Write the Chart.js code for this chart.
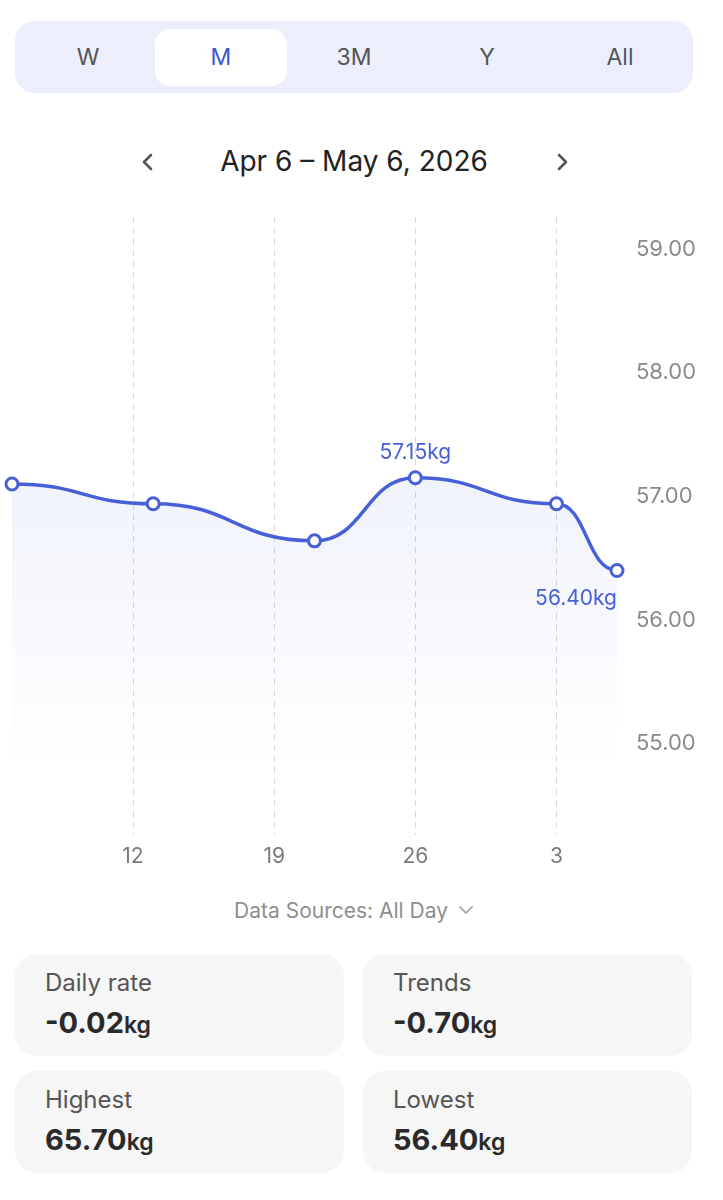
<!DOCTYPE html>
<html>
<head>
<meta charset="utf-8">
<script src="https://cdn.jsdelivr.net/npm/chart.js@4.4.1/dist/chart.umd.min.js"></script>
<style>
  body { margin: 0; background: #fff; font-family: Inter, "Noto Sans", sans-serif; }
  #page { position: relative; width: 723px; height: 1200px; overflow: hidden; }
  .seg { position: absolute; left: 15px; top: 21px; width: 678px; height: 72px; background: #eceffb; border-radius: 20px; }
  .seg .pill { position: absolute; left: 140px; top: 8px; width: 132px; height: 57px; background: #fff; border-radius: 15px; }
  .seg span { position: absolute; top: 0; line-height: 72px; width: 100px; margin-left: -50px; text-align: center; font-size: 23px; color: #555; }
  .seg span.on { color: #3f56d4; }
  .range { position: absolute; top: 142px; left: 0; width: 708px; text-align: center; font-size: 28px; color: #222; line-height: 38px; }
  .chev { position: absolute; top: 146px; width: 20px; height: 32px; }
  #wrap { position: absolute; left: 0; top: 200px; width: 723px; height: 680px; }
  .src { position: absolute; top: 896px; left: 0; width: 708px; text-align: center; font-size: 21px; color: #8e8e8e; line-height: 30px; }
  .card { position: absolute; width: 329px; height: 102px; background: #f6f6f6; border-radius: 22px; }
  .card .lab { position: absolute; left: 30px; top: 14px; font-size: 24px; color: #555; }
  .card .val { position: absolute; left: 30px; top: 51px; font-size: 29px; font-weight: 700; color: #2a2a2a; }
  .card .val small { font-size: 23px; font-weight: 600; }
</style>
</head>
<body>
<div id="page">
  <div class="seg">
    <div class="pill"></div>
    <span style="left:73px">W</span>
    <span class="on" style="left:206px">M</span>
    <span style="left:339px">3M</span>
    <span style="left:472px">Y</span>
    <span style="left:605px">All</span>
  </div>
  <svg class="chev" style="left:137px" viewBox="0 0 20 32"><path d="M14 9 L7 16 L14 23" fill="none" stroke="#555" stroke-width="2.6" stroke-linecap="round" stroke-linejoin="round"/></svg>
  <div class="range">Apr 6 – May 6, 2026</div>
  <svg class="chev" style="left:553px" viewBox="0 0 20 32"><path d="M6 9 L13 16 L6 23" fill="none" stroke="#555" stroke-width="2.6" stroke-linecap="round" stroke-linejoin="round"/></svg>
  <div id="wrap"><canvas id="myChart"></canvas></div>
  <div class="src">Data Sources: All Day <svg width="16" height="12" viewBox="0 0 16 12" style="vertical-align:2px;margin-left:4px"><path d="M2 3 L8 9 L14 3" fill="none" stroke="#b0b0b0" stroke-width="2" stroke-linecap="round" stroke-linejoin="round"/></svg></div>
  <div class="card" style="left:15px;top:954px"><div class="lab">Daily rate</div><div class="val">-0.02<small>kg</small></div></div>
  <div class="card" style="left:363px;top:954px"><div class="lab">Trends</div><div class="val">-0.70<small>kg</small></div></div>
  <div class="card" style="left:15px;top:1071px"><div class="lab">Highest</div><div class="val">65.70<small>kg</small></div></div>
  <div class="card" style="left:363px;top:1071px"><div class="lab">Lowest</div><div class="val">56.40<small>kg</small></div></div>
</div>
<script>
// day offsets from Apr 6
const days = [0, 7, 15, 20, 27, 30];
const weights = [57.10, 56.94, 56.64, 57.15, 56.94, 56.40];
const xTickDays = [6, 13, 20, 27];
const xTickLabels = ['12', '19', '26', '3'];
const yTicks = [55, 56, 57, 58, 59];

const blue = '#4760d8';

// every segment leaves and enters its points horizontally
const flatCurve = {
    id: 'flatCurve',
    beforeDraw(chart) {
        const line = chart.getDatasetMeta(0).dataset;
        line.updateControlPoints(chart.chartArea, 'x');
        const pts = line.points;
        for (let i = 0; i < pts.length; i++) {
            const p = pts[i];
            const prev = pts[i - 1], next = pts[i + 1];
            p.cp1x = prev ? p.x - (p.x - prev.x) * 0.5 : p.x;
            p.cp1y = p.y;
            p.cp2x = next ? p.x + (next.x - p.x) * 0.5 : p.x;
            p.cp2y = p.y;
        }
    }
};

// kg labels on the highest and the last point
const kgLabels = {
    id: 'kgLabels',
    afterDatasetsDraw(chart) {
        const ctx = chart.ctx;
        const pts = chart.getDatasetMeta(0).data;
        const maxI = weights.indexOf(Math.max(...weights));
        const lastI = weights.length - 1;
        ctx.save();
        ctx.font = '21px Inter, "Noto Sans", sans-serif';
        ctx.fillStyle = blue;
        ctx.textBaseline = 'middle';
        ctx.textAlign = 'center';
        ctx.fillText(weights[maxI].toFixed(2) + 'kg', pts[maxI].x, pts[maxI].y - 25);
        ctx.textAlign = 'right';
        ctx.fillText(weights[lastI].toFixed(2) + 'kg', pts[lastI].x, pts[lastI].y + 28);
        ctx.restore();
    }
};

function myLoadFunction() {
    const ctx = document.getElementById('myChart').getContext('2d');
    var myChartConfig = {
        type: 'line',
        data: {
            datasets: [{
                data: days.map((d, i) => ({ x: d, y: weights[i] })),
                borderColor: blue,
                borderWidth: 3.5,
                tension: 0.4,
                fill: 'start',
                backgroundColor: function (c) {
                    const area = c.chart.chartArea;
                    if (!area) return 'rgba(71,96,216,0.06)';
                    const g = c.chart.ctx.createLinearGradient(0, area.top + 260, 0, area.bottom - 70);
                    g.addColorStop(0, 'rgba(71,96,216,0.08)');
                    g.addColorStop(1, 'rgba(71,96,216,0)');
                    return g;
                },
                pointRadius: 6,
                pointBorderWidth: 3,
                pointBackgroundColor: '#fff',
                pointBorderColor: blue,
                clip: false
            }]
        },
        options: {
            responsive: true,
            maintainAspectRatio: false,
            animation: false,
            layout: { padding: { left: 12, top: 17, bottom: 12, right: 0 } },
            plugins: { legend: { display: false }, tooltip: { enabled: false } },
            scales: {
                x: {
                    type: 'linear',
                    min: 0,
                    max: 30,
                    afterBuildTicks: s => { s.ticks = xTickDays.map(v => ({ value: v })); },
                    afterFit: s => { s.height = 33; s.paddingLeft = 0; s.paddingRight = 0; },
                    ticks: {
                        padding: 9,
                        color: '#7a7a7a',
                        font: { size: 21, family: 'Inter' },
                        callback: (v) => xTickLabels[xTickDays.indexOf(v)]
                    },
                    grid: { color: '#d8d8d8', lineWidth: 1, drawTicks: false },
                    border: { display: false, dash: [6, 5] }
                },
                y: {
                    position: 'right',
                    min: 54.26,
                    max: 59.26,
                    afterBuildTicks: s => { s.ticks = yTicks.map(v => ({ value: v })); },
                    afterFit: s => { s.width = 106; s.paddingTop = 0; s.paddingBottom = 0; },
                    ticks: {
                        padding: 19,
                        color: '#8a8a8a',
                        font: { size: 22, family: 'Inter' },
                        callback: v => v.toFixed(2)
                    },
                    grid: { display: false, drawTicks: false },
                    border: { display: false }
                }
            }
        },
        plugins: [flatCurve, kgLabels]
    };
    const myChart = new Chart(ctx, myChartConfig);
}

document.addEventListener('DOMContentLoaded', myLoadFunction);
</script>
</body>
</html>
